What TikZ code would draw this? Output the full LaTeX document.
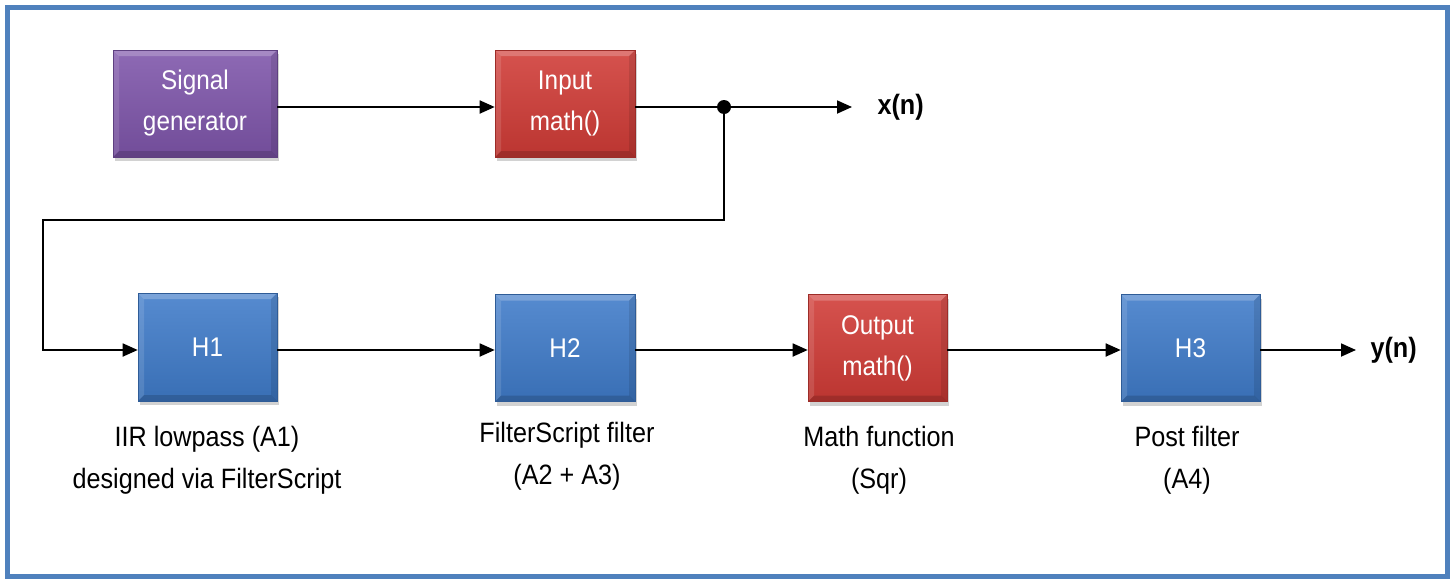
\documentclass[tikz,border=0pt]{standalone}
\usepackage{fontspec}
\setmainfont[FakeStretch=0.9]{Liberation Sans}
\usetikzlibrary{arrows.meta,shadows}
\definecolor{frameblue}{HTML}{4F81BD}
\definecolor{boxblue}{HTML}{3F7BC9}
\definecolor{boxred}{HTML}{D03B36}
\definecolor{boxpurple}{HTML}{7E55AA}
\tikzset{
  bevel/.style={path picture={
    \fill[white, opacity=0.22]
      (path picture bounding box.north west) -- (path picture bounding box.north east)
      -- ([xshift=-6pt,yshift=-6pt]path picture bounding box.north east)
      -- ([xshift=6pt,yshift=-6pt]path picture bounding box.north west) -- cycle;
    \fill[white, opacity=0.12]
      (path picture bounding box.north west) -- ([xshift=6pt,yshift=-6pt]path picture bounding box.north west)
      -- ([xshift=6pt,yshift=6pt]path picture bounding box.south west)
      -- (path picture bounding box.south west) -- cycle;
    \fill[black, opacity=0.15]
      (path picture bounding box.south west) -- (path picture bounding box.south east)
      -- ([xshift=-6pt,yshift=6pt]path picture bounding box.south east)
      -- ([xshift=6pt,yshift=6pt]path picture bounding box.south west) -- cycle;
    \fill[black, opacity=0.1]
      (path picture bounding box.north east) -- ([xshift=-6pt,yshift=-6pt]path picture bounding box.north east)
      -- ([xshift=-6pt,yshift=6pt]path picture bounding box.south east)
      -- (path picture bounding box.south east) -- cycle;
  }},
  blk/.style={minimum width=140pt, minimum height=107pt, inner sep=0pt,
    draw=#1!75!black, line width=0.6pt,
    top color=#1!88!white, bottom color=#1!90!black, bevel,
    drop shadow={opacity=0.35, shadow xshift=2pt, shadow yshift=-4pt},
    text=white, font=\fontsize{27}{41}\selectfont, align=center},
  wire/.style={line width=1.8pt, black},
  arr/.style={wire, -{Triangle[length=15pt,width=13pt]}},
  lbl/.style={font=\fontsize{28}{42}\selectfont, align=center, anchor=north},
  sig/.style={font=\bfseries\fontsize{28}{32}\selectfont},
}
\begin{document}
\begin{tikzpicture}[x=1pt,y=-1pt]
  \useasboundingbox (0,0) rectangle (1455,581);
  \fill[white] (0,0) rectangle (1455,581);
  \draw[frameblue, line width=5pt] (7.5,7.5) rectangle (1447.5,576.5);

  % processing blocks
  \node[blk=boxpurple, minimum width=164pt] (gen) at (195,103.5) {Signal\\generator};
  \node[blk=boxred] (inm) at (565,103.5) {Input\\math()};
  \node[blk=boxblue, minimum width=139pt, minimum height=108pt] (h1) at (207.5,347) {H1};
  \node[blk=boxblue] (h2) at (565,348) {H2};
  \node[blk=boxred, minimum width=139pt] (outm) at (877.5,348) {Output\\math()};
  \node[blk=boxblue, minimum width=139pt] (h3) at (1190.5,348) {H3};

  % signal names
  \node[sig, anchor=west] (xn) at (874,107) {x(n)};
  \node[sig, anchor=west] (yn) at (1367,350) {y(n)};
  \coordinate (xend) at (852,107);
  \coordinate (yend) at (1356,350);

  % branch point and feedback route
  \coordinate (jn) at (724,107);
  \coordinate (c1) at (724,220);
  \coordinate (c2) at (43,220);
  \coordinate (c3) at (43,350);

  \draw[arr] (gen.east |- 0,107) -- (inm.west |- 0,107);
  \draw[wire] (inm.east |- 0,107) -- (jn);
  \draw[arr] (jn) -- (xend);
  \draw[arr] (jn) -- (c1) -- (c2) -- (c3) -- (h1.west |- c3);
  \fill (jn) circle (7pt);
  \draw[arr] (h1.east |- 0,350) -- (h2.west |- 0,350);
  \draw[arr] (h2.east |- 0,350) -- (outm.west |- 0,350);
  \draw[arr] (outm.east |- 0,350) -- (h3.west |- 0,350);
  \draw[arr] (h3.east |- 0,350) -- (yend);

  % descriptions under the blocks
  \node[lbl] (d1) at (207,423) {IIR lowpass (A1)\\designed via FilterScript};
  \node[lbl] (d2) at (567,419) {FilterScript filter\\(A2 + A3)};
  \node[lbl] (d3) at (879,423) {Math function\\(Sqr)};
  \node[lbl] (d4) at (1187,423) {Post filter\\(A4)};
\end{tikzpicture}
\end{document}
